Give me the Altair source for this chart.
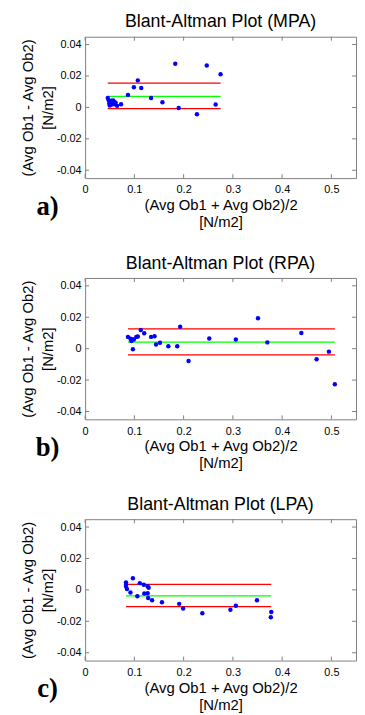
import altair as alt
import pandas as pd

# ---- data ----
x_ticks = [0, 0.1, 0.2, 0.3, 0.4, 0.5]
y_ticks = [-0.04, -0.02, 0, 0.02, 0.04]

mpa_x = [0.046, 0.048, 0.049, 0.050, 0.051, 0.053, 0.054, 0.056, 0.057, 0.059, 0.060, 0.062, 0.065,
         0.073, 0.087, 0.099, 0.107, 0.114, 0.134, 0.157, 0.183, 0.190, 0.227, 0.247, 0.265, 0.275]
mpa_y = [0.0060, 0.0045, 0.0025, 0.0012, 0.0035, 0.0042, 0.0018, 0.0030, 0.0045, 0.0035, 0.0020, 0.0030, 0.0010,
         0.0020, 0.0079, 0.0128, 0.0172, 0.0124, 0.0060, 0.0033, 0.0278, -0.0004, -0.0044, 0.0267, 0.0019, 0.0211]
mpa_limits = [0.0155, 0.0071, -0.0008]  # upper LoA, mean, lower LoA

rpa_x = [0.087, 0.092, 0.094, 0.096, 0.099, 0.097, 0.104, 0.107, 0.113, 0.120, 0.134, 0.141, 0.144,
         0.152, 0.169, 0.187, 0.193, 0.210, 0.252, 0.306, 0.351, 0.370, 0.439, 0.470, 0.495, 0.507]
rpa_y = [0.0075, 0.0063, 0.0048, 0.0058, 0.0058, -0.0004, 0.0075, 0.0077, 0.0119, 0.0098, 0.0075, 0.0079, 0.0027,
         0.0038, 0.0015, 0.0015, 0.0140, -0.0079, 0.0065, 0.0058, 0.0194, 0.0040, 0.0100, -0.0067, -0.0019, -0.0227]
rpa_limits = [0.0126, 0.0042, -0.0039]

lpa_x = [0.083, 0.083, 0.083, 0.085, 0.092, 0.097, 0.106, 0.111, 0.119, 0.120, 0.127, 0.129,
         0.127, 0.128, 0.136, 0.156, 0.191, 0.199, 0.238, 0.295, 0.306, 0.349, 0.378, 0.377]
lpa_y = [0.0048, 0.0033, 0.0021, 0.0006, -0.0017, 0.0074, -0.0041, 0.0043, 0.0033, -0.0023, 0.0023, 0.0014,
         -0.0021, -0.0052, -0.0066, -0.0079, -0.0089, -0.0118, -0.0149, -0.0126, -0.0101, -0.0066, -0.0141, -0.0174]
lpa_limits = [0.0035, -0.0038, -0.0107]

panels = [
    ("Blant-Altman Plot (MPA)", "a)", mpa_x, mpa_y, mpa_limits),
    ("Blant-Altman Plot (RPA)", "b)", rpa_x, rpa_y, rpa_limits),
    ("Blant-Altman Plot (LPA)", "c)", lpa_x, lpa_y, lpa_limits),
]

# ---- styling ----
W, H = 274, 143
GRAY = "#7f7f7f"
TICK = 4
FONT = "Liberation Sans"
label_expr = "replace(format(datum.value, '~g'), '\u2212', '-')"

xscale = alt.Scale(domain=[0, 0.55], nice=False, zero=False)
yscale = alt.Scale(domain=[-0.045, 0.045], nice=False, zero=False)

xaxis = alt.Axis(values=x_ticks, labelExpr=label_expr, labelFlush=False, labelOverlap=False,
                 title=["(Avg Ob1 + Avg Ob2)/2", "[N/m2]"], titleLineHeight=17,
                 labelPadding=6, titlePadding=3)
yaxis = alt.Axis(values=y_ticks, labelExpr=label_expr, labelOverlap=False,
                 title=["(Avg Ob1 - Avg Ob2)", "[N/m2]"], titleLineHeight=20,
                 labelPadding=4, titlePadding=1)


def panel(title, letter, xs, ys, limits):
    pts = pd.DataFrame({"x": xs, "y": ys})
    lo, hi = min(xs), max(xs)
    lines = pd.DataFrame({"x": [lo] * 3, "x2": [hi] * 3, "y": limits,
                          "kind": ["LoA", "Mean", "LoA"]})
    xt = pd.DataFrame({"t": x_ticks})
    yt = pd.DataFrame({"t": y_ticks})

    rules = alt.Chart(lines).mark_rule(strokeWidth=1.3).encode(
        x=alt.X("x:Q", scale=xscale, axis=xaxis),
        x2="x2:Q",
        y=alt.Y("y:Q", scale=yscale, axis=yaxis),
        color=alt.Color("kind:N", scale=alt.Scale(domain=["LoA", "Mean"], range=["#ff0000", "#00ff00"]),
                        legend=None),
    )
    points = alt.Chart(pts).mark_circle(color="#0000ff", size=20, opacity=1).encode(
        x=alt.X("x:Q", scale=xscale, axis=xaxis),
        y=alt.Y("y:Q", scale=yscale, axis=yaxis),
    )
    top_t = alt.Chart(xt).mark_rule(color=GRAY).encode(
        x=alt.X("t:Q", scale=xscale, axis=xaxis), y=alt.value(0), y2=alt.value(TICK))
    bot_t = alt.Chart(xt).mark_rule(color=GRAY).encode(
        x=alt.X("t:Q", scale=xscale, axis=xaxis), y=alt.value(H - TICK), y2=alt.value(H))
    left_t = alt.Chart(yt).mark_rule(color=GRAY).encode(
        y=alt.Y("t:Q", scale=yscale, axis=yaxis), x=alt.value(0), x2=alt.value(TICK))
    right_t = alt.Chart(yt).mark_rule(color=GRAY).encode(
        y=alt.Y("t:Q", scale=yscale, axis=yaxis), x=alt.value(W - TICK), x2=alt.value(W))
    tag = alt.Chart(pd.DataFrame({"t": [letter]})).mark_text(
        font="Liberation Serif", fontSize=27, fontWeight="bold", align="center", baseline="middle",
        color="#000"
    ).encode(text="t:N", x=alt.value(-38), y=alt.value(H + 29))

    return alt.layer(rules, points, top_t, bot_t, left_t, right_t, tag).properties(
        width=W, height=H,
        title=alt.TitleParams(text=title, font=FONT, fontSize=18, fontWeight="normal",
                              color="#000", offset=5, anchor="middle"),
    )


chart = alt.vconcat(*[panel(*p) for p in panels], spacing=24).properties(
    padding={"left": 12, "top": 1, "right": 0, "bottom": 0}
).configure_view(stroke=GRAY, strokeWidth=1).configure_axis(
    domain=False, ticks=False, grid=False,
    labelFont=FONT, labelFontSize=11, labelColor="#000",
    titleFont=FONT, titleFontSize=15, titleFontWeight="normal", titleColor="#000",
)

chart.save("out.html", embed_options={"renderer": "svg", "actions": False})
